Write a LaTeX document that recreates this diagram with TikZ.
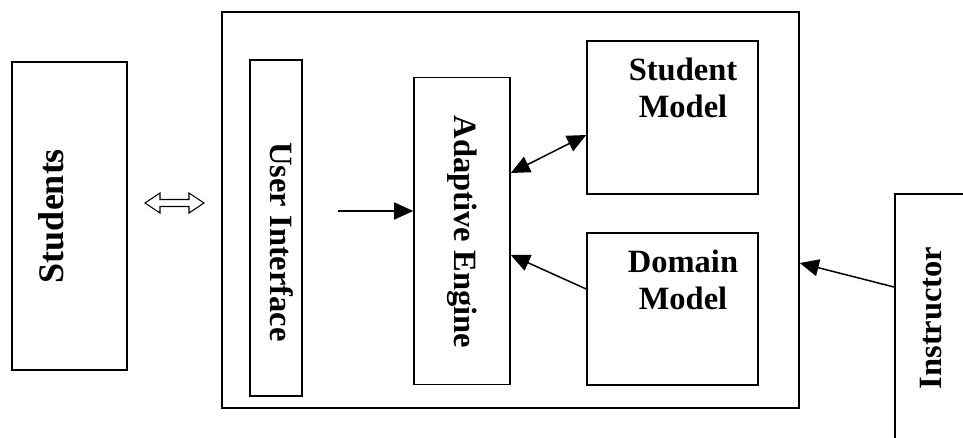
\documentclass[tikz,border=0pt]{standalone}
\usepackage{fontspec}
\setmainfont{Liberation Serif}
\usetikzlibrary{arrows.meta}
\begin{document}
\begin{tikzpicture}[x=1pt,y=-1pt,
  box/.style={draw=black, line width=1.6pt, rectangle, inner sep=0pt},
  lbl/.style={inner sep=0pt, font=\fontsize{32.5}{37}\selectfont\bfseries, align=center},
  tip/.style={Triangle[length=19pt,width=17pt]},
  conn/.style={line width=1.5pt, -{Triangle[length=19pt,width=17pt]}},
  biconn/.style={line width=1.5pt, {Triangle[length=19pt,width=17pt]}-{Triangle[length=19pt,width=17pt]}}]
\useasboundingbox (0,0) rectangle (963,438);
\clip (0,0) rectangle (963,438);

% boxes
\node[box, minimum width=115pt, minimum height=308pt] (students) at (69.5,216) {};
\node[box, minimum width=577pt, minimum height=396pt] (system) at (510.5,210) {};
\node[box, minimum width=52pt, minimum height=336pt] (ui) at (276,228) {};
\node[box, minimum width=96pt, minimum height=307pt] (engine) at (462,231) {};
\node[box, minimum width=171pt, minimum height=153pt] (smodel) at (672.5,117.5) {};
\node[box, minimum width=171pt, minimum height=152pt] (dmodel) at (672.5,309) {};
\node[box, minimum width=120pt, minimum height=300pt, anchor=north west] (instructor) at (894,193) {};

% labels
\node[lbl, rotate=90, font=\fontsize{36}{40}\selectfont\bfseries] (tstudents) at (51,216) {Students};
\node[lbl, rotate=-90] (tui) at (282,242) {User Interface};
\node[lbl, rotate=-90] (tengine) at (462,232) {Adaptive Engine};
\node[lbl, anchor=north] (tsmodel) at (683,58) {Student\\Model};
\node[lbl, anchor=north] (tdmodel) at (683,250) {Domain\\Model};
\node[lbl, rotate=90] (tinstructor) at (931,318) {Instructor};

% hollow two-way arrow between students and the system
\draw[line width=1.1pt, line join=miter]
  (145,203) -- (160,193) -- (160,199.5) -- (189,199.5) -- (189,193) -- (204,203)
  -- (189,213) -- (189,206.5) -- (160,206.5) -- (160,213) -- cycle;

% connectors
\coordinate (uiout) at (338,211);
\draw[conn] (uiout) -- (engine.west |- uiout);
\draw[biconn] (engine.east |- 0,173) -- (smodel.west |- 0,135);
\draw[conn] (dmodel.west |- 0,289) -- (engine.east |- 0,255);
\draw[conn] (instructor.west |- 0,287) -- (system.east |- 0,263);
\end{tikzpicture}
\end{document}
